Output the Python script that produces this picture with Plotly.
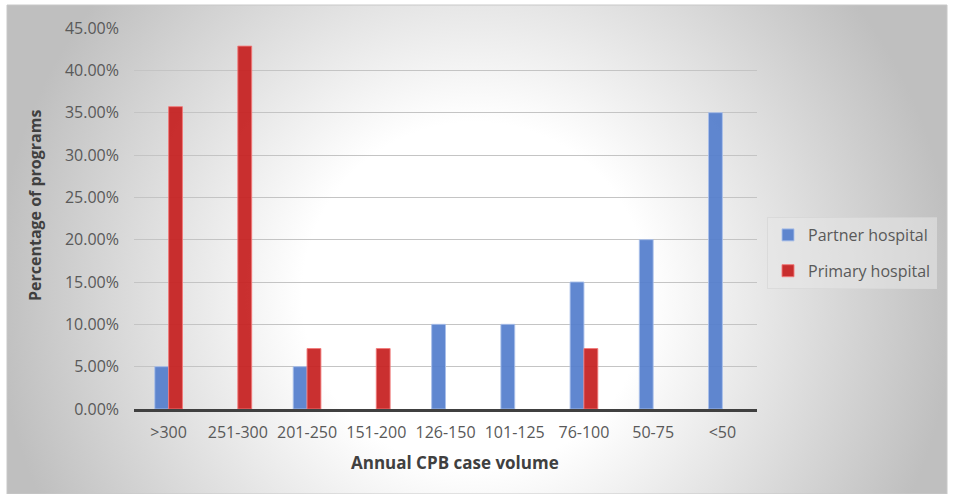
import plotly.graph_objects as go

# Annual CPB case volume bins and share of programs (%) in each
categories = [">300", "251-300", "201-250", "151-200", "126-150",
              "101-125", "76-100", "50-75", "<50"]
partner_pct = [5.0, 0.0, 5.0, 0.0, 10.0, 10.0, 15.0, 20.0, 35.0]
primary_pct = [35.71, 42.86, 7.14, 7.14, 0.0, 0.0, 7.14, 0.0, 0.0]
y_ticks = [0, 5, 10, 15, 20, 25, 30, 35, 40, 45]
y_tick_text = [f"{v:.2f}%" for v in y_ticks]

W, H = 957, 494
FONT = "Open Sans"
TICK_COLOR = "#595959"
TITLE_COLOR = "#404040"

# Frame of the chart card, in page pixels
fx0, fx1, fy0, fy1 = 7, 947, 5, 494
fw, fh = fx1 - fx0, fy1 - fy0

# Plot area, in page pixels
px0, px1, py0, py1 = 134, 757, 28, 409


def bar_values(vals):
    # empty bins are left blank rather than drawn as zero-height bars
    return [v if v else None for v in vals]


fig = go.Figure()

# Card background: circular white-to-grey gradient, clipped to the frame
cx, cy, R = 468, fh - 290, 480
fig.add_trace(go.Scatter(
    x=[cx - R, cx + R, cx + R, cx - R, cx - R],
    y=[cy - R, cy - R, cy + R, cy + R, cy - R],
    mode="lines", line=dict(width=0), fill="toself",
    fillgradient=dict(type="radial",
                      colorscale=[[0, "#ffffff"], [0.36, "#ffffff"], [1, "#bfbfbf"]]),
    hoverinfo="skip", showlegend=False, xaxis="x", yaxis="y",
))

fig.add_trace(go.Bar(
    name="Partner hospital", x=categories, y=bar_values(partner_pct),
    marker=dict(color="rgba(84,126,204,0.93)",
                line=dict(color="rgba(170,192,234,0.9)", width=1)),
    xaxis="x2", yaxis="y2", legendgroup="a",
))
fig.add_trace(go.Bar(
    name="Primary hospital", x=categories, y=bar_values(primary_pct),
    marker=dict(color="rgba(198,30,30,0.92)",
                line=dict(color="rgba(242,120,120,0.9)", width=1)),
    xaxis="x2", yaxis="y2", legendgroup="b",
))

fig.update_layout(
    width=W, height=H,
    margin=dict(l=0, r=0, t=0, b=0, autoexpand=False),
    paper_bgcolor="white", plot_bgcolor="rgba(0,0,0,0)",
    barmode="group", bargap=0.6, bargroupgap=0,
    font=dict(family=FONT, size=16, color=TICK_COLOR),
    xaxis=dict(domain=[fx0 / W, fx1 / W], range=[0, fw], visible=False,
               fixedrange=True, automargin=False),
    yaxis=dict(domain=[0, fh / H], range=[0, fh], visible=False,
               fixedrange=True, automargin=False),
    xaxis2=dict(domain=[px0 / W, px1 / W], anchor="y2", automargin=False,
                showline=True, linecolor="#404040", linewidth=3,
                showgrid=False, ticks="", ticklabelstandoff=7,
                tickfont=dict(family=FONT, size=16, color=TICK_COLOR)),
    yaxis2=dict(domain=[(H - py1) / H, (H - py0) / H], anchor="x2",
                automargin=False, range=[0, 45],
                tickmode="array", tickvals=y_ticks, ticktext=y_tick_text,
                showgrid=True, gridcolor="#c4c4c4",
                gridwidth=1, zeroline=False, showline=False, ticks="",
                ticklabelstandoff=14,
                tickfont=dict(family=FONT, size=16, color=TICK_COLOR)),
    legend=dict(x=767 / W, y=1 - 217 / H, xanchor="left", yanchor="top",
                bgcolor="rgba(232,232,232,0.55)",
                bordercolor="rgba(214,214,214,0.7)", borderwidth=1,
                font=dict(family=FONT, size=16, color=TICK_COLOR),
                traceorder="grouped", tracegroupgap=12, itemwidth=30),
    annotations=[
        dict(text="<b>Percentage of programs</b>", xref="paper", yref="paper",
             x=35 / W, y=1 - 206 / H, xanchor="center", yanchor="middle",
             textangle=-90, showarrow=False,
             font=dict(family=FONT, size=16, color=TITLE_COLOR)),
        dict(text="<b>Annual CPB case volume</b>", xref="paper", yref="paper",
             x=455 / W, y=1 - 462 / H, xanchor="center", yanchor="middle",
             showarrow=False,
             font=dict(family=FONT, size=17, color=TITLE_COLOR)),
    ],
    shapes=[
        dict(type="rect", xref="paper", yref="paper",
             x0=fx0 / W, x1=fx1 / W, y0=0, y1=fh / H,
             line=dict(color="#c8c8c8", width=1), layer="above"),
    ],
)

fig.write_html("out.html")
